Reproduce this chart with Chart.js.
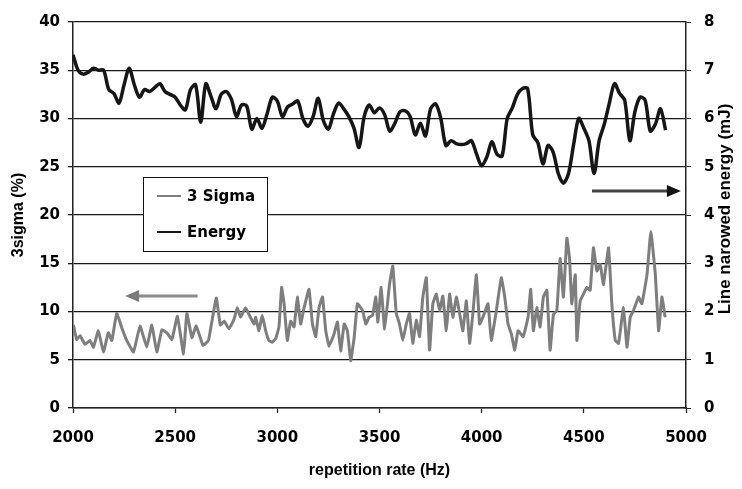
<!DOCTYPE html>
<html>
<head>
<meta charset="utf-8">
<script src="https://cdn.jsdelivr.net/npm/chart.js@4.4.0/dist/chart.umd.min.js"></script>
<style>
  html, body { margin: 0; padding: 0; background: #fff; }
</style>
</head>
<body>
<canvas id="chartSigmaEnergie" width="742" height="489"></canvas>
<script>
// Energy (mJ), right axis
const energyHz = [
  2000, 2025, 2050, 2075, 2100, 2125, 2150, 2175, 2200, 2225,
  2250, 2275, 2300, 2325, 2350, 2375, 2400, 2425, 2450, 2475,
  2500, 2525, 2550, 2575, 2600, 2625, 2650, 2675, 2700, 2725,
  2750, 2775, 2800, 2825, 2850, 2875, 2900, 2925, 2950, 2975,
  3000, 3025, 3050, 3075, 3100, 3125, 3150, 3175, 3200, 3225,
  3250, 3275, 3300, 3325, 3350, 3375, 3400, 3425, 3450, 3475,
  3500, 3525, 3550, 3575, 3600, 3625, 3650, 3675, 3700, 3725,
  3750, 3775, 3800, 3825, 3850, 3875, 3900, 3925, 3950, 3975,
  4000, 4025, 4050, 4075, 4100, 4125, 4150, 4175, 4200, 4225,
  4250, 4275, 4300, 4325, 4350, 4375, 4400, 4425, 4450, 4475,
  4500, 4525, 4550, 4575, 4600, 4625, 4650, 4675, 4700, 4725,
  4750, 4775, 4800, 4825, 4850, 4875, 4900
];
const energyMj = [
  7.32, 7.00, 6.92, 6.96, 7.04, 7.00, 7.00, 6.60, 6.52, 6.32,
  6.70, 7.04, 6.70, 6.44, 6.60, 6.56, 6.64, 6.72, 6.56, 6.50,
  6.44, 6.28, 6.18, 6.60, 6.70, 5.92, 6.72, 6.46, 6.20, 6.50,
  6.56, 6.40, 6.04, 6.28, 6.26, 5.78, 6.00, 5.80, 6.10, 6.44,
  6.36, 6.04, 6.24, 6.30, 6.36, 6.00, 5.84, 6.04, 6.42, 5.96,
  5.78, 6.10, 6.32, 6.20, 6.04, 5.80, 5.40, 6.04, 6.28, 6.12,
  6.22, 6.08, 5.74, 5.90, 6.14, 6.16, 6.04, 5.66, 5.90, 5.64,
  6.20, 6.30, 6.00, 5.44, 5.54, 5.48, 5.46, 5.48, 5.54, 5.26,
  5.02, 5.20, 5.52, 5.26, 5.22, 6.00, 6.22, 6.50, 6.62, 6.62,
  5.66, 5.50, 5.06, 5.44, 5.30, 4.86, 4.66, 4.86, 5.46, 6.00,
  5.80, 5.54, 4.86, 5.54, 5.88, 6.32, 6.72, 6.52, 6.38, 5.54,
  6.14, 6.44, 6.38, 5.74, 5.88, 6.20, 5.76
];

// 3 sigma (%), left axis
const sigmaHz = [
  2002, 2018, 2034, 2059, 2083, 2100, 2124, 2149, 2173, 2190,
  2214, 2239, 2263, 2296, 2328, 2361, 2386, 2410, 2435, 2459,
  2484, 2511, 2541, 2557, 2582, 2603, 2636, 2663, 2701, 2721,
  2740, 2763, 2788, 2804, 2820, 2845, 2861, 2886, 2894, 2910,
  2926, 2943, 2959, 2975, 2992, 3008, 3021, 3033, 3049, 3065,
  3082, 3098, 3114, 3131, 3155, 3172, 3188, 3204, 3221, 3237,
  3253, 3278, 3294, 3310, 3327, 3343, 3359, 3376, 3392, 3417,
  3433, 3449, 3466, 3482, 3492, 3508, 3525, 3549, 3565, 3582,
  3598, 3614, 3631, 3647, 3663, 3680, 3696, 3712, 3729, 3745,
  3761, 3778, 3794, 3810, 3827, 3843, 3859, 3876, 3892, 3908,
  3925, 3941, 3957, 3974, 3990, 4006, 4031, 4047, 4072, 4096,
  4113, 4129, 4145, 4162, 4178, 4203, 4227, 4240, 4253, 4270,
  4286, 4302, 4319, 4335, 4351, 4368, 4384, 4400, 4417, 4430,
  4441, 4458, 4466, 4482, 4498, 4515, 4531, 4547, 4564, 4580,
  4596, 4621, 4637, 4654, 4670, 4694, 4711, 4727, 4743, 4768,
  4784, 4809, 4828, 4850, 4866, 4882, 4898
];
const sigmaPct = [
  8.6, 7.1, 7.5, 6.6, 7.0, 6.3, 8.0, 5.8, 7.8, 7.0,
  9.8, 8.3, 7.0, 5.8, 8.5, 6.3, 8.6, 5.8, 8.1, 7.8,
  7.1, 9.5, 5.6, 9.8, 7.3, 8.5, 6.5, 7.0, 11.4, 8.6,
  9.0, 8.2, 9.2, 10.4, 9.4, 10.4, 9.7, 8.7, 9.4, 8.0,
  9.6, 8.0, 7.0, 6.8, 7.2, 8.4, 12.5, 10.8, 7.0, 9.0,
  8.4, 11.5, 8.7, 10.4, 12.3, 8.7, 7.4, 10.4, 11.5, 8.0,
  6.4, 7.7, 8.9, 5.9, 8.7, 8.0, 4.9, 7.3, 10.8, 10.1,
  8.7, 9.4, 9.6, 11.5, 8.9, 12.5, 8.2, 12.8, 14.7, 9.8,
  8.7, 7.0, 8.7, 9.8, 6.7, 9.1, 7.4, 11.5, 13.5, 6.0,
  10.8, 11.8, 10.1, 11.6, 8.0, 11.8, 9.4, 11.5, 9.8, 8.0,
  11.1, 6.7, 9.8, 13.8, 8.7, 9.4, 10.8, 7.0, 10.1, 13.5,
  11.5, 8.7, 7.7, 6.0, 8.0, 7.4, 9.4, 12.3, 8.0, 10.4,
  8.4, 11.5, 12.2, 6.0, 9.7, 10.1, 15.5, 11.5, 17.6, 15.5,
  10.8, 13.8, 7.0, 11.1, 11.8, 12.5, 12.2, 16.6, 14.2, 14.9,
  12.8, 16.6, 10.8, 7.0, 6.7, 10.4, 6.3, 9.4, 10.1, 11.5,
  10.8, 13.8, 18.3, 13.8, 8.0, 11.5, 9.4
];

const seriesNames = ['3 Sigma', 'Energy'];
const seriesColors = ['#7e7e7e', '#161616'];

const tickFont = { family: 'DejaVu Sans', size: 15, weight: 'bold' };
const titleFont = { family: 'Liberation Sans', size: 16, weight: 'bold' };

// legende + fleches + titre de l'axe droit, dessines a la main
const decorations = {
  id: 'decorations',
  afterDatasetsDraw(chart) {
    const c = chart.ctx;
    const xs = chart.scales.x, ys = chart.scales.y;

    // fleches
    function arrow(hzFrom, hzTo, pct, color, headColor) {
      const y = ys.getPixelForValue(pct);
      const x0 = xs.getPixelForValue(hzFrom);
      const x1 = xs.getPixelForValue(hzTo);
      const dir = Math.sign(x1 - x0);
      c.save();
      c.strokeStyle = color;
      c.lineWidth = 3;
      c.beginPath();
      c.moveTo(x0, y);
      c.lineTo(x1 - dir * 12, y);
      c.stroke();
      c.fillStyle = headColor;
      c.beginPath();
      c.moveTo(x1, y);
      c.lineTo(x1 - dir * 14, y - 6);
      c.lineTo(x1 - dir * 14, y + 6);
      c.closePath();
      c.fill();
      c.restore();
    }
    arrow(2610, 2255, 11.6, '#8a8a8a', '#7a7a7a');
    arrow(4540, 4975, 22.5, '#444', '#111');

    // legende
    c.save();
    c.fillStyle = '#fff';
    c.fillRect(143, 177, 124, 74);
    c.strokeStyle = '#111';
    c.lineWidth = 1;
    c.strokeRect(143.5, 177.5, 124, 74);
    c.font = 'bold 15px "DejaVu Sans"';
    c.textBaseline = 'middle';
    seriesNames.forEach((name, i) => {
      const y = 196 + i * 36;
      c.strokeStyle = seriesColors[i];
      c.lineWidth = 2;
      c.beginPath();
      c.moveTo(157, y);
      c.lineTo(181, y);
      c.stroke();
      c.fillStyle = '#000';
      c.fillText(name, 187, y + 1);
    });
    c.restore();

    // titre axe droit (lu de bas en haut)
    c.save();
    c.translate(725, 209);
    c.rotate(-Math.PI / 2);
    c.font = 'bold 17px "Liberation Sans"';
    c.fillStyle = '#000';
    c.textAlign = 'center';
    c.textBaseline = 'middle';
    c.fillText('Line narowed energy (mJ)', 0, 0);
    c.restore();
  }
};

const ctx = document.getElementById('chartSigmaEnergie');
new Chart(ctx, {
  type: 'line',
  data: {
    datasets: [{
      label: seriesNames[0],
      data: sigmaHz.map((hz, i) => ({ x: hz, y: sigmaPct[i] })),
      yAxisID: 'y',
      borderColor: seriesColors[0],
      borderWidth: 3,
      pointRadius: 0,
      tension: 0.1
    }, {
      label: seriesNames[1],
      data: energyHz.map((hz, i) => ({ x: hz, y: energyMj[i] })),
      yAxisID: 'y1',
      borderColor: seriesColors[1],
      borderWidth: 3.5,
      pointRadius: 0,
      tension: 0.3
    }]
  },
  options: {
    responsive: false,
    animation: false,
    devicePixelRatio: 1,
    layout: { padding: { top: 14 } },
    plugins: { legend: { display: false }, tooltip: { enabled: false } },
    scales: {
      x: {
        type: 'linear',
        min: 2000,
        max: 5000,
        ticks: { stepSize: 500, color: '#000', font: tickFont, padding: 16, maxRotation: 0,
                 callback: v => String(v) },
        grid: { drawOnChartArea: false, tickLength: 5, color: '#222', tickWidth: 1.3 },
        border: { color: '#222', width: 1.5 },
        title: { display: true, text: 'repetition rate (Hz)', color: '#000', font: titleFont,
                 padding: { top: 0, bottom: 9 } },
        afterFit: s => { s.height = 81; }
      },
      y: {
        position: 'left',
        min: 0,
        max: 40,
        ticks: { stepSize: 5, color: '#000', font: tickFont, padding: 8 },
        grid: { color: '#1a1a1a', lineWidth: 1.3, tickLength: 5 },
        border: { color: '#222', width: 1.5 },
        title: { display: true, text: '3sigma (%)', color: '#000', font: titleFont,
                 padding: { top: 9, bottom: 0 } },
        afterFit: s => { s.width = 73; }
      },
      y1: {
        position: 'right',
        min: 0,
        max: 8,
        ticks: { stepSize: 1, color: '#000', font: tickFont, padding: 13 },
        grid: { drawOnChartArea: false, tickLength: 5, color: '#222' },
        border: { color: '#222', width: 1.5 },
        afterFit: s => { s.width = 56; }
      }
    }
  },
  plugins: [decorations]
});
</script>
</body>
</html>
